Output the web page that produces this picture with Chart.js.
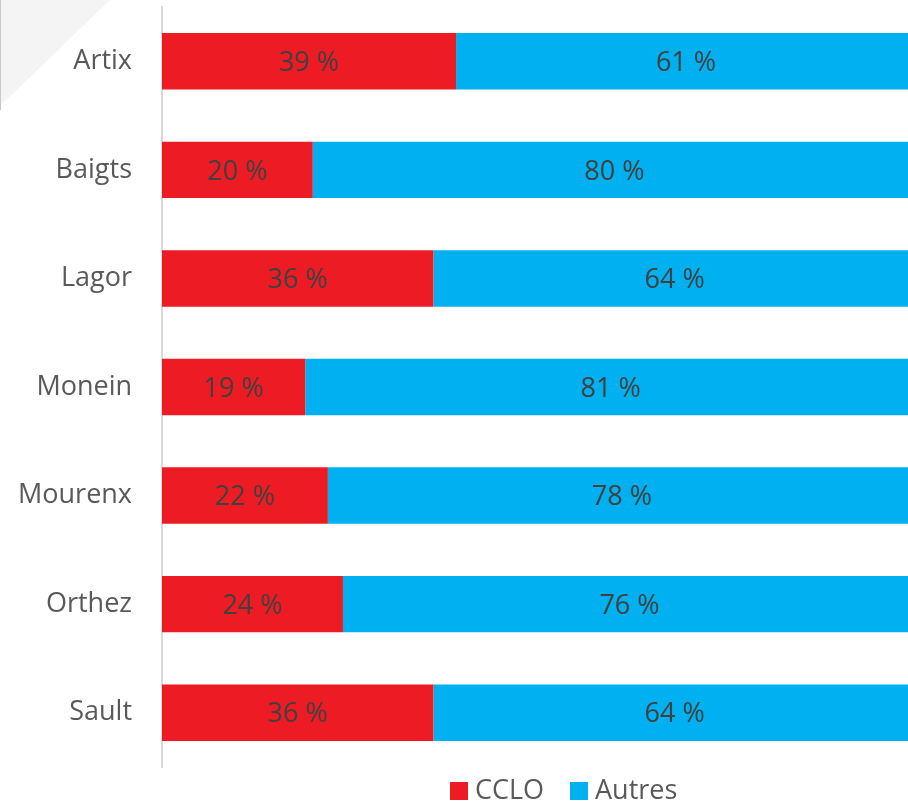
<!DOCTYPE html>
<html>
<head>
<meta charset="utf-8">
<script src="https://cdn.jsdelivr.net/npm/chart.js@4/dist/chart.umd.min.js"></script>
<style>
  html, body { margin: 0; padding: 0; background: #fff; overflow: hidden; }
  #wrap { width: 908px; height: 803px; overflow: hidden; position: relative; }
  #box { width: 924px; height: 803px; position: absolute; left: 0; top: 0; }
</style>
</head>
<body>
<div id="wrap"><div id="box"><canvas id="myChart"></canvas></div></div>
<script>
const communes = ["Artix", "Baigts", "Lagor", "Monein", "Mourenx", "Orthez", "Sault"];
const cclo = [39, 20, 36, 19, 22, 24, 36];
const autres = [61, 80, 64, 81, 78, 76, 64];

const fontFam = "'Open Sans', 'Liberation Sans', sans-serif";

// coin gris en haut a gauche + legende + etiquettes
const decor = {
  id: "decor",
  beforeDraw(chart) {
    const c = chart.ctx;
    c.save();
    c.fillStyle = "#f4f4f4";
    c.beginPath();
    c.moveTo(0, 0);
    c.lineTo(110, 0);
    c.lineTo(0, 106);
    c.closePath();
    c.fill();
    c.fillStyle = "#c8c8c8";
    c.fillRect(0, 0, 1, 110);
    c.restore();
  },
  afterDatasetsDraw(chart) {
    const c = chart.ctx;
    c.save();
    c.font = "27px " + fontFam;
    c.fillStyle = "#404040";
    c.textAlign = "center";
    c.textBaseline = "middle";
    const x = chart.scales.x;
    chart.data.datasets.forEach((ds, i) => {
      chart.getDatasetMeta(i).data.forEach((bar, j) => {
        const start = i === 0 ? 0 : cclo[j];
        const end = start + ds.data[j];
        const cx = (x.getPixelForValue(start) + x.getPixelForValue(end)) / 2;
        c.fillText(ds.data[j] + " %", cx, bar.y + 2);
      });
    });
    // legende
    c.font = "27px " + fontFam;
    c.textAlign = "left";
    const items = [[450, "CCLO", "#ED1C24"], [570, "Autres", "#00B0F0"]];
    items.forEach(([lx, txt, col]) => {
      c.fillStyle = col;
      c.fillRect(lx, 782, 18, 18);
      c.fillStyle = "#595959";
      c.fillText(txt, lx + 25, 791);
    });
    c.restore();
  }
};

new Chart(document.getElementById("myChart"), {
  type: "bar",
  data: {
    labels: communes,
    datasets: [
      { label: "CCLO", data: cclo, backgroundColor: "#ED1C24" },
      { label: "Autres", data: autres, backgroundColor: "#00B0F0" }
    ]
  },
  options: {
    indexAxis: "y",
    responsive: true,
    maintainAspectRatio: false,
    animation: false,
    layout: { padding: { top: 7, bottom: 36, right: 8, left: 0 } },
    datasets: { bar: { barPercentage: 0.52, categoryPercentage: 1 } },
    scales: {
      x: {
        stacked: true,
        min: 0,
        max: 100,
        display: false
      },
      y: {
        stacked: true,
        afterFit(scale) {
          scale.width = 162;
          scale.paddingTop = 0;
          scale.paddingBottom = 0;
        },
        grid: { display: false, drawTicks: false },
        border: { display: true, color: "#d9d9d9", width: 2 },
        ticks: {
          color: "#595959",
          padding: 30,
          font: { family: fontFam, size: 27 }
        }
      }
    },
    plugins: {
      legend: { display: false },
      tooltip: { enabled: false }
    }
  },
  plugins: [decor]
});
</script>
</body>
</html>
